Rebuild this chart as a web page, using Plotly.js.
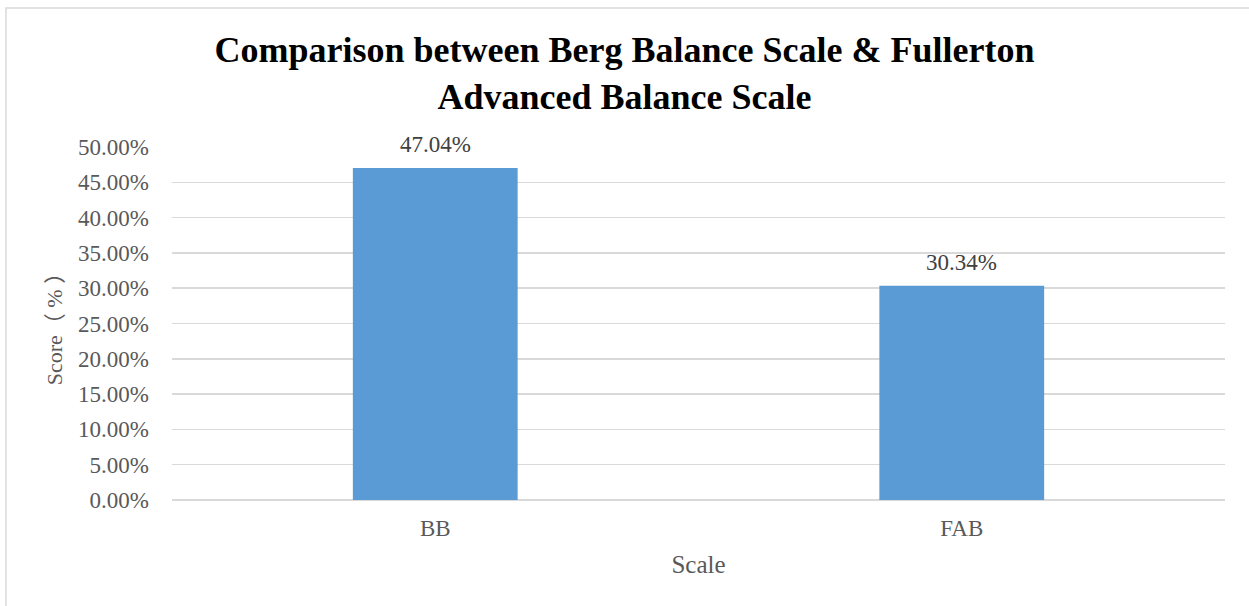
<!DOCTYPE html>
<html>
<head>
<meta charset="utf-8">
<script src="https://cdn.plot.ly/plotly-3.0.1.min.js"></script>
<style>
  html, body { margin: 0; padding: 0; background: #ffffff; }
  #chart { width: 1249px; height: 606px; }
</style>
</head>
<body>
<div id="chart"></div>
<script>
const categories = ["BB", "FAB"];
const scores = [47.04, 30.34];
const yTickVals = [0, 5, 10, 15, 20, 25, 30, 35, 40, 45, 50];
const yTickText = ["0.00%", "5.00%", "10.00%", "15.00%", "20.00%", "25.00%", "30.00%", "35.00%", "40.00%", "45.00%", "50.00%"];

const serif = "'Liberation Serif', 'Times New Roman', 'Noto Sans CJK SC', serif";

const trace = {
  type: "bar",
  x: categories,
  y: scores,
  marker: { color: "#5b9bd5" },
  hoverinfo: "x+y"
};

const labels = categories.map((c, i) => ({
  x: c,
  y: scores[i],
  xref: "x",
  yref: "y",
  text: scores[i].toFixed(2) + "%",
  showarrow: false,
  xanchor: "center",
  yanchor: "bottom",
  yshift: 9,
  font: { family: serif, size: 23, color: "#404040" }
}));

const layout = {
  width: 1249,
  height: 606,
  margin: { l: 172, r: 24, t: 147, b: 106 },
  paper_bgcolor: "#ffffff",
  plot_bgcolor: "#ffffff",
  bargap: 0.687,
  showlegend: false,
  font: { family: serif, color: "#595959" },
  title: {
    text: "Comparison between Berg Balance Scale & Fullerton<br>Advanced Balance Scale",
    font: { family: serif, size: 36, color: "#000000", weight: "bold" },
    x: 0.5,
    xanchor: "center",
    y: 0.898,
    yanchor: "middle"
  },
  xaxis: {
    type: "category",
    showgrid: false,
    showline: false,
    zeroline: false,
    ticks: "",
    ticklabelstandoff: 12,
    tickfont: { family: serif, size: 23, color: "#595959" },
    title: { text: "Scale", font: { family: serif, size: 25, color: "#595959" }, standoff: 15 }
  },
  yaxis: {
    range: [0, 50],
    tickvals: yTickVals,
    ticktext: yTickText,
    showgrid: true,
    gridcolor: "#d9d9d9",
    gridwidth: 1.5,
    zeroline: true,
    zerolinecolor: "#d9d9d9",
    zerolinewidth: 1.5,
    showline: false,
    ticks: "",
    ticklabelstandoff: 22,
    tickfont: { family: serif, size: 23, color: "#595959" },
    title: { text: "Score（ % ）", font: { family: serif, size: 22, color: "#595959" }, standoff: 9 }
  },
  annotations: labels,
  shapes: [{
    type: "rect",
    xref: "paper", yref: "paper",
    x0: (6 - 172) / 1053, x1: 1.3,
    y0: -1, y1: (500 - 8) / 353,
    line: { color: "#d9d9d9", width: 1.5 },
    fillcolor: "rgba(0,0,0,0)",
    layer: "below"
  }]
};

Plotly.newPlot("chart", [trace], layout, { displayModeBar: false, staticPlot: true });
</script>
</body>
</html>
